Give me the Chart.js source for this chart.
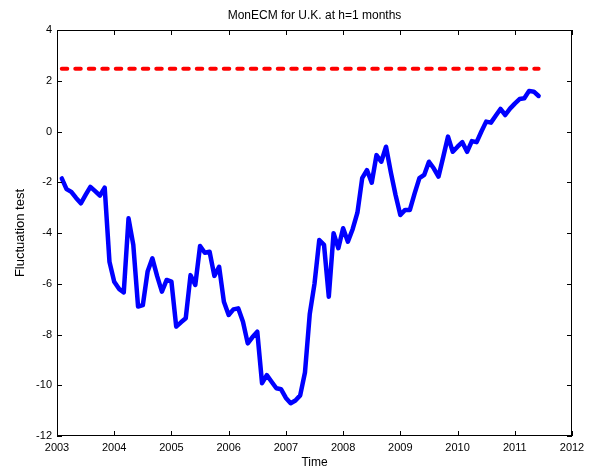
<!DOCTYPE html>
<html>
<head>
<meta charset="utf-8">
<script src="https://cdn.jsdelivr.net/npm/chart.js@4.4.1/dist/chart.umd.min.js"></script>
<style>
  html, body { margin: 0; padding: 0; background: #fff; }
  canvas { display: block; }
</style>
</head>
<body>
<canvas id="fluctChart" width="603" height="470"></canvas>
<script>
// monthly series, first observation Feb 2003
const startYear = 2003;
const startMonth = 2;
const fluctuation = [
  -1.85, -2.27, -2.38, -2.62, -2.83, -2.50, -2.18, -2.35, -2.53, -2.21,
  -5.13, -5.92, -6.20, -6.34, -3.42, -4.47, -6.90, -6.84, -5.52, -5.00,
  -5.70, -6.31, -5.85, -5.92, -7.69, -7.52, -7.36, -5.66, -6.05, -4.51,
  -4.78, -4.74, -5.69, -5.33, -6.71, -7.23, -7.01, -6.97, -7.50, -8.35,
  -8.10, -7.89, -9.92, -9.60, -9.86, -10.12, -10.16, -10.50, -10.71, -10.60,
  -10.40, -9.50, -7.20, -6.00, -4.28, -4.47, -6.51, -4.01, -4.60, -3.81,
  -4.34, -3.85, -3.20, -1.84, -1.52, -2.02, -0.93, -1.19, -0.60, -1.60,
  -2.50, -3.29, -3.09, -3.09, -2.44, -1.84, -1.71, -1.19, -1.45, -1.78,
  -1.00, -0.20, -0.80, -0.60, -0.42, -0.80, -0.38, -0.42, 0.00, 0.39,
  0.35, 0.62, 0.89, 0.65, 0.90, 1.10, 1.28, 1.31, 1.60, 1.57,
  1.40
];
const criticalValue = 2.47;
const xTicks = [2003, 2004, 2005, 2006, 2007, 2008, 2009, 2010, 2011, 2012];
const yTicks = [-12, -10, -8, -6, -4, -2, 0, 2, 4];

const months = fluctuation.map((v, i) => startYear + (startMonth - 1 + i) / 12);
const seriesPoints = fluctuation.map((v, i) => ({ x: months[i], y: v }));
const criticalPoints = [
  { x: months[0], y: criticalValue },
  { x: months[months.length - 1], y: criticalValue }
];

Chart.defaults.font.family = "'Liberation Sans', Arial, sans-serif";
Chart.defaults.color = '#000';

// box round the plot with inward ticks, like matlab
const boxPlugin = {
  id: 'matlabBox',
  afterDatasetsDraw(chart) {
    const { ctx, chartArea: a, scales } = chart;
    const tl = 5;
    ctx.save();
    ctx.strokeStyle = '#000';
    ctx.lineWidth = 1;
    ctx.beginPath();
    xTicks.forEach(t => {
      const px = Math.round(scales.x.getPixelForValue(t)) + 0.5;
      ctx.moveTo(px, a.bottom); ctx.lineTo(px, a.bottom - tl);
      ctx.moveTo(px, a.top); ctx.lineTo(px, a.top + tl);
    });
    yTicks.forEach(t => {
      const py = Math.round(scales.y.getPixelForValue(t)) + 0.5;
      ctx.moveTo(a.left, py); ctx.lineTo(a.left + tl, py);
      ctx.moveTo(a.right, py); ctx.lineTo(a.right - tl, py);
    });
    ctx.stroke();
    ctx.strokeRect(Math.round(a.left) + 0.5, Math.round(a.top) + 0.5,
      Math.round(a.width) - 1, Math.round(a.height) - 1);
    ctx.restore();
  }
};

new Chart(document.getElementById('fluctChart'), {
  type: 'line',
  data: {
    datasets: [{
      label: 'Fluctuation test',
      data: seriesPoints,
      borderColor: '#0000ff',
      borderWidth: 4.5,
      pointRadius: 0,
      tension: 0,
      borderJoinStyle: 'round',
      borderCapStyle: 'round',
      fill: false
    }, {
      label: 'Critical value',
      data: criticalPoints,
      borderColor: '#ff0000',
      borderWidth: 4,
      borderDash: [5.5, 8],
      borderCapStyle: 'round',
      pointRadius: 0,
      fill: false
    }]
  },
  options: {
    responsive: false,
    animation: false,
    layout: { padding: { left: 0, right: 31, top: 0, bottom: 0 } },
    plugins: {
      legend: { display: false },
      tooltip: { enabled: false },
      title: {
        display: true,
        text: 'MonECM for U.K. at h=1 months',
        fullSize: false,
        font: { size: 12, weight: 'normal' },
        padding: { top: 8, bottom: 7.6 }
      }
    },
    scales: {
      x: {
        type: 'linear',
        min: 2003,
        max: 2012,
        afterFit: s => { s.height = 34; },
        afterBuildTicks: s => { s.ticks = xTicks.map(v => ({ value: v })); },
        grid: { display: false, drawTicks: false },
        border: { display: false },
        ticks: { font: { size: 11 }, padding: 5, maxRotation: 0, callback: v => String(v) },
        title: { display: true, text: 'Time', font: { size: 12 }, padding: { top: 0, bottom: 0.5 } }
      },
      y: {
        min: -12,
        max: 4,
        afterFit: s => { s.width = 57; },
        afterBuildTicks: s => { s.ticks = yTicks.map(v => ({ value: v })); },
        grid: { display: false, drawTicks: false },
        border: { display: false },
        ticks: { font: { size: 11 }, padding: 5 },
        title: { display: true, text: 'Fluctuation test', font: { size: 13 }, padding: { top: 13, bottom: 0 } }
      }
    }
  },
  plugins: [boxPlugin]
});
</script>
</body>
</html>
